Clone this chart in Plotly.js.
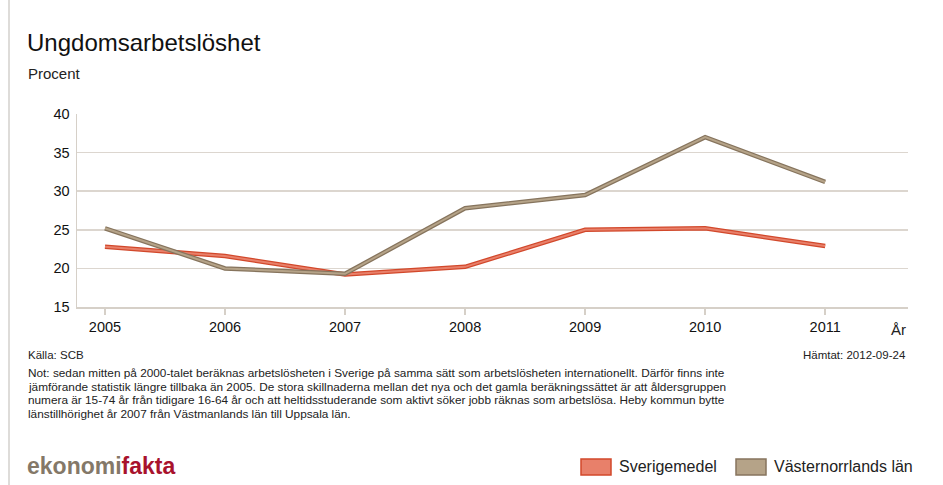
<!DOCTYPE html>
<html><head><meta charset="utf-8">
<script src="https://cdn.plot.ly/plotly-3.0.1.min.js"></script>
<style>html,body{margin:0;padding:0;background:#fff;}#chart{width:943px;height:485px;}</style>
</head><body><div id="chart"></div>
<script>
const years = [2005, 2006, 2007, 2008, 2009, 2010, 2011];
const sverige = [22.8, 21.6, 19.2, 20.2, 25.0, 25.2, 22.9];
const vasternorrland = [25.2, 20.0, 19.3, 27.8, 29.5, 37.0, 31.2];
const yTicks = [15, 20, 25, 30, 35, 40];
const seriesNames = ['Sverigemedel', 'Västernorrlands län'];
const noteLines = [
  'Not: sedan mitten på 2000-talet beräknas arbetslösheten i Sverige på samma sätt som arbetslösheten internationellt. Därför finns inte',
  'jämförande statistik längre tillbaka än 2005. De stora skillnaderna mellan det nya och det gamla beräkningssättet är att åldersgruppen',
  'numera är 15-74 år från tidigare 16-64 år och att heltidsstuderande som aktivt söker jobb räknas som arbetslösa. Heby kommun bytte',
  'länstillhörighet år 2007 från Västmanlands län till Uppsala län.'
];

const W = 943, H = 485;
const L = 77, R = 908, T = 114, B = 307;
const px = x => (x - L) / (R - L);
const py = y => (B - y) / (B - T);
const FONT = 'Liberation Sans, Arial, sans-serif';

const red = {edge: '#d2482b', fill: '#e8806a'};
const brown = {edge: '#86745d', fill: '#b5a388'};

function pair(y, c, name) {
  return [
    {x: years, y: y, type: 'scatter', mode: 'lines', name: name, showlegend: false,
     line: {color: c.edge, width: 4.5}, hoverinfo: 'skip'},
    {x: years, y: y, type: 'scatter', mode: 'lines', name: name, showlegend: false,
     line: {color: c.fill, width: 2}}
  ];
}
const data = [...pair(sverige, red, seriesNames[0]), ...pair(vasternorrland, brown, seriesNames[1])];

const ann = (x, y, text, size, opts = {}) => Object.assign({
  xref: 'paper', yref: 'paper', x: px(x), y: py(y), text: text, showarrow: false,
  xanchor: 'left', yanchor: 'middle', align: 'left',
  font: {family: FONT, size: size, color: '#222'}
}, opts);

const noteY = [373, 387, 400, 414];
const noteAnns = noteLines.map((t, i) => ann(26, noteY[i], t, 11.8, {font: {family: FONT, size: 11.8, color: '#222'}}));

const layout = {
  width: W, height: H,
  margin: {l: L, r: W - R, t: T, b: H - B, pad: 0},
  paper_bgcolor: '#fff', plot_bgcolor: '#fff',
  showlegend: false,
  xaxis: {
    type: 'linear', range: [2004.767, 2011.69], tickvals: years, ticktext: years.map(String),
    showgrid: false, zeroline: false, showline: true, linecolor: '#d6d0c8', linewidth: 1.5,
    ticks: 'outside', ticklen: 6, tickcolor: '#d6d0c8', tickwidth: 1.5,
    tickfont: {family: FONT, size: 14.5, color: '#111'}
  },
  yaxis: {
    range: [15, 40], tickvals: yTicks, showgrid: true, gridcolor: '#dcd6cf', gridwidth: 1.5,
    zeroline: false, showline: true, linecolor: '#d6d0c8', linewidth: 1.5,
    ticks: '', ticklabelstandoff: 3,
    tickfont: {family: FONT, size: 14.5, color: '#111'}
  },
  shapes: [
    {type: 'line', xref: 'paper', yref: 'paper', x0: px(9), x1: px(9), y0: py(0), y1: py(485), line: {color: '#d3d0cc', width: 1.5}},
    {type: 'rect', xref: 'paper', yref: 'paper', x0: px(581), x1: px(611), y0: py(459), y1: py(475), fillcolor: red.fill, line: {color: red.edge, width: 1.5}},
    {type: 'rect', xref: 'paper', yref: 'paper', x0: px(736), x1: px(766), y0: py(459), y1: py(475), fillcolor: brown.fill, line: {color: brown.edge, width: 1.5}}
  ],
  annotations: [
    ann(25, 42, 'Ungdomsarbetslöshet', 24, {font: {family: FONT, size: 24, color: '#111'}}),
    ann(26, 74, 'Procent', 15),
    ann(889, 329, 'År', 15),
    ann(26, 355, 'Källa: SCB', 11.5),
    ann(908, 355, 'Hämtat: 2012-09-24', 11.5, {xanchor: 'right', align: 'right'}),
    ...noteAnns,
    ann(25, 466, '<span style="color:#847868">ekonomi</span><span style="color:#a8122c">fakta</span>', 23, {font: {family: FONT, size: 23, color: '#847868', weight: 'bold'}}),
    ann(617, 467, seriesNames[0], 16),
    ann(772, 467, seriesNames[1], 16)
  ]
};

Plotly.newPlot('chart', data, layout, {staticPlot: true, displayModeBar: false});
</script>
</body></html>
